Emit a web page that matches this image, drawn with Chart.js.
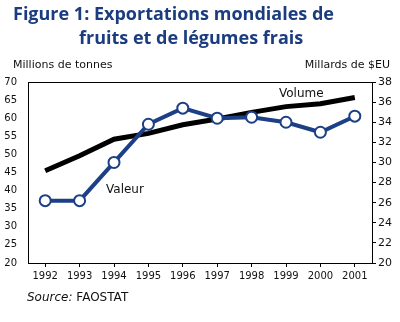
<!DOCTYPE html>
<html>
<head>
<meta charset="utf-8">
<script src="https://cdn.jsdelivr.net/npm/chart.js@4/dist/chart.umd.min.js"></script>
<style>
  body { margin: 0; background: #fff; }
  #wrap { position: relative; width: 400px; height: 322px; overflow: hidden; font-family: "DejaVu Sans", sans-serif; }
  #chart { position: absolute; left: 0; top: 0; }
  .t { position: absolute; white-space: nowrap; }
  .title { color: #1b3c7e; font: bold 18px "Open Sans", sans-serif; line-height: 24px; }
  .ax { font-size: 11px; color: #111; top: 58px; }
  .lab { font-size: 12px; color: #111; }
</style>
</head>
<body>
<div id="wrap">
  <canvas id="chart" width="400" height="322"></canvas>
  <div class="t title" style="left:13px;top:1px">Figure 1: Exportations mondiales de</div>
  <div class="t title" style="left:79px;top:25px">fruits et de légumes frais</div>
  <div class="t ax" style="left:13px">Millions de tonnes</div>
  <div class="t ax" style="right:10px">Millards de $EU</div>
  <div class="t lab" style="left:106px;top:182px">Valeur</div>
  <div class="t lab" style="left:279px;top:86px">Volume</div>
  <div class="t" style="left:27px;top:290px;font-size:12px;color:#111"><i>Source:</i> FAOSTAT</div>
</div>
<script>
// years on the x axis
const years = ['1992','1993','1994','1995','1996','1997','1998','1999','2000','2001']
// volume, millions of tonnes (left axis)
const volume = [45.5, 49.6, 54.2, 55.8, 58.2, 59.8, 61.6, 63.2, 64.0, 65.7]
// value, billions of USD (right axis)
const valeur = [26.2, 26.2, 30.0, 33.8, 35.4, 34.4, 34.5, 34.0, 33.0, 34.6]

const blue = '#1c3f86'

// frame round the plot area
const framePlugin = {
  id: 'frame',
  afterDraw(chart) {
    const a = chart.chartArea
    const c = chart.ctx
    c.save()
    c.strokeStyle = '#000'
    c.lineWidth = 1
    c.strokeRect(Math.round(a.left) + 0.5, Math.round(a.top) + 0.5, Math.round(a.right - a.left), Math.round(a.bottom - a.top))
    c.restore()
  }
}

const ctx = document.getElementById('chart')
new Chart(ctx, {
  type: 'line',
  data: {
    labels: years,
    datasets: [
      {
        label: 'Valeur',
        data: valeur,
        yAxisID: 'y2',
        borderColor: blue,
        borderWidth: 4,
        pointRadius: 5.5,
        pointBorderWidth: 2,
        pointBackgroundColor: '#fff',
        pointBorderColor: blue,
        tension: 0,
        order: 0
      },
      {
        label: 'Volume',
        data: volume,
        yAxisID: 'y',
        borderColor: '#000',
        borderWidth: 5,
        pointRadius: 0,
        tension: 0,
        order: 1
      }
    ]
  },
  options: {
    responsive: false,
    animation: false,
    layout: { padding: { top: 82, left: 0, right: 0, bottom: 0 } },
    plugins: { legend: { display: false }, tooltip: { enabled: false } },
    scales: {
      x: {
        offset: true,
        grid: { display: true, drawOnChartArea: false, drawTicks: true, tickLength: 4, color: '#000' },
        border: { color: '#000' },
        ticks: { color: '#111', font: { family: 'DejaVu Sans', size: 10 }, padding: 3, maxRotation: 0 },
        afterFit(s) { s.height = 59 }
      },
      y: {
        position: 'left',
        min: 20, max: 70,
        ticks: { stepSize: 5, color: '#111', font: { family: 'DejaVu Sans', size: 10 }, padding: 3 },
        grid: { display: false },
        border: { color: '#000' },
        afterFit(s) { s.width = 28 }
      },
      y2: {
        position: 'right',
        min: 20, max: 38,
        ticks: { stepSize: 2, color: '#111', font: { family: 'DejaVu Sans', size: 11 }, padding: 2 },
        grid: { display: true, drawOnChartArea: false, tickLength: 4, color: '#000' },
        border: { color: '#000' },
        afterFit(s) { s.width = 28 }
      }
    }
  },
  plugins: [framePlugin]
})
</script>
</body>
</html>
